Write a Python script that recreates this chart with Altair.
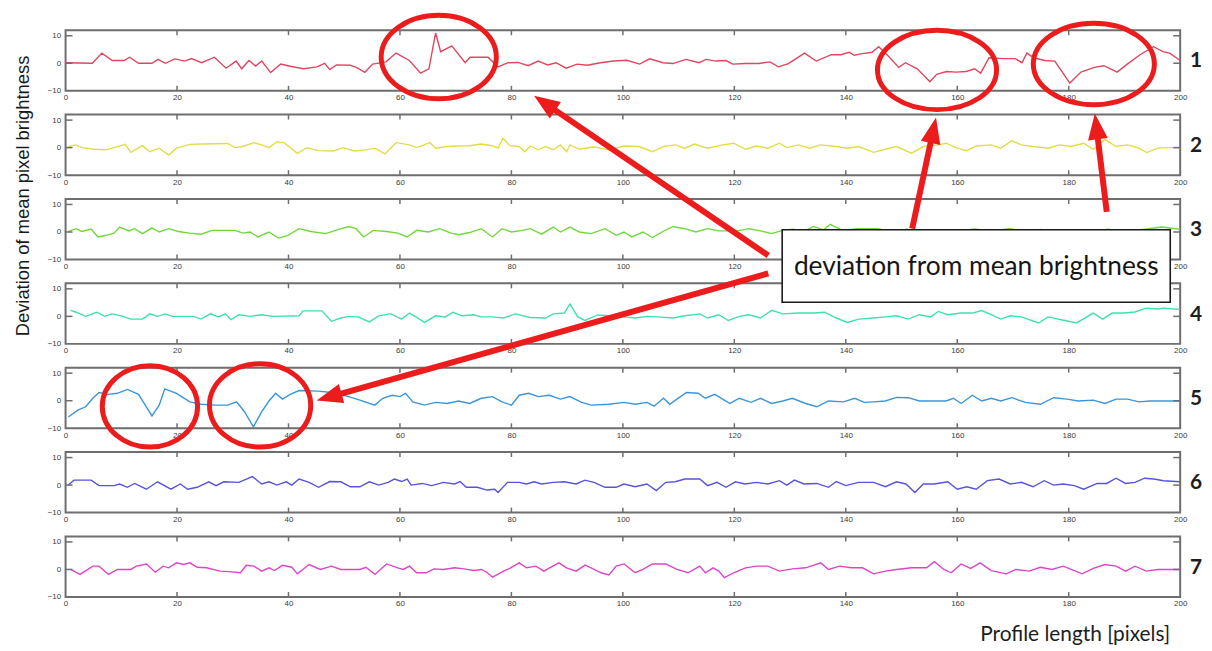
import math
import altair as alt
import pandas as pd

# ---------------- data ----------------
S1 = [(0, 0.2), (4.8, 0), (6.5, 3.7), (8.4, 1.0), (10.5, 1.0), (11.5, 2.2), (13.1, 0), (15.5, 0), (16.6, 1.4),
      (17.9, 0), (19.6, 1.6), (21.4, 0.8), (22.6, 1.7), (24.4, 0.2), (26.7, 2.2), (28.8, -1.8), (30.6, 0.8),
      (31.6, -2.0), (32.9, 1.0), (34.1, -1.0), (35.2, 0.8), (36.8, -3.4), (38.6, -0.3), (40.3, -1.1), (42.7, -2.0),
      (45.1, -1.3), (46.5, 0), (47.4, -2.3), (48.6, -0.6), (51.0, -0.7), (52.2, -1.5), (53.7, -3.3), (55.1, -0.3),
      (57.5, 0.5), (59.3, 3.7), (61.7, 1.0), (63.7, -3.6), (65.2, -2.0), (66.4, 11.0), (67.3, 4.2), (69.3, 6.3),
      (71.7, 0.2), (72.6, 2.2), (75.8, 2.2), (77.6, -1.3), (79.4, 0.2), (81.2, 0.3), (83.0, -0.9), (84.8, 0.8),
      (86.5, -0.6), (88.0, 0.2), (89.8, -1.8), (91.8, -0.3), (93.6, -0.7), (96.0, 0.2), (98.3, 0.8), (100.7, 1.1),
      (103.0, -0.3), (104.8, 1.6), (107.2, 0.2), (109.0, -0.1), (111.3, 1.4), (113.7, 0.2), (114.9, 1.4),
      (116.7, 0.8), (118.5, 1.0), (119.7, -0.3), (122.0, -0.1), (124.4, -0.1), (126.4, 0.5), (127.9, -1.3),
      (129.7, -0.1), (132.6, 3.7), (134.7, 0.8), (137.4, 3.1), (139.1, 3.1), (140.6, 4.0), (141.5, 2.9),
      (142.7, 3.4), (144.7, 4.0), (145.9, 6.0), (147.4, 3.1), (149.5, -1.5), (150.7, 0.2), (152.8, -2.0),
      (155.1, -6.7), (156.3, -4.0), (158.1, -3.0), (159.8, -3.2), (161.6, -3.0), (163.1, -2.0), (164.2, -3.6),
      (165.7, 2.0), (168.1, 1.7), (170.4, 1.7), (171.6, 0.2), (172.5, 3.7), (173.7, 2.0), (175.7, 1.0),
      (177.5, 0.8), (180.2, -7.2), (182.2, -3.2), (184.6, -1.5), (186.3, -0.9), (188.7, -3.2), (190.5, -0.3),
      (192.8, 3.1), (195.2, 6.0), (196.9, 4.2), (198.1, 3.7), (200, 1.0)]

S2 = [(0.5, 0.4), (1.9, 1.0), (2.9, 0), (5.3, -0.6), (7.3, -0.8), (8.7, 0), (10.7, 1.2), (11.7, -1.7), (13.8, 0.7),
      (15.1, -1.5), (16.8, -0.2), (18.5, -2.7), (19.9, -0.2), (22.3, 1.2), (24.3, 1.3), (29.1, 1.5), (30.4, 0),
      (31.8, 0.4), (33.8, 1.8), (35.2, 1.0), (36.5, 0), (37.9, 2.1), (39.2, 1.8), (41.6, -2.1), (43.3, 0),
      (45.4, -1.1), (48.1, -1.2), (49.8, 0), (51.8, -1.2), (53.9, -0.8), (55.5, -0.2), (57.3, -2.3), (59.3, 1.8),
      (61.7, 1.0), (63.0, 0), (65.4, 1.8), (66.4, -0.2), (68.5, 0.4), (70.5, 0.6), (72.5, 0.7), (74.6, 1.3),
      (76.6, 0.7), (77.6, -0.2), (78.5, 3.4), (79.7, 0.7), (81.4, 0.4), (82.4, -1.5), (83.4, 0.6), (84.8, -0.8),
      (86.1, 0.4), (87.5, -0.8), (88.8, 1.0), (89.9, -1.5), (90.5, 1.0), (92.2, -0.6), (94.8, 0.3), (97.5, -0.8),
      (100.2, 0.6), (102.9, 0.4), (105.3, -1.5), (107.3, 0.4), (109.4, 1.0), (111.1, -0.2), (112.8, 1.3),
      (115.2, -0.2), (117.9, 1.0), (119.9, 1.6), (122.0, -0.6), (124.0, 0.6), (126.0, -0.2), (128.1, 1.6),
      (129.4, 0), (131.5, 1.0), (133.5, -0.2), (135.5, 1.0), (138.3, 0.4), (140.3, -0.2), (142.3, 0.4),
      (145.0, -1.7), (147.1, -0.6), (149.1, 0.4), (151.8, -2.0), (153.9, 0.4), (156.6, 1.0), (158.0, 1.6),
      (160.0, -0.2), (161.7, -1.1), (163.4, 0.6), (166.1, 1.0), (167.8, -0.2), (169.8, 2.5), (171.5, 1.0),
      (173.6, 0.4), (176.3, -0.2), (178.3, 1.0), (180.4, 0.4), (182.7, 1.6), (184.4, -0.6), (186.5, 3.0),
      (188.5, 0.4), (190.6, 1.0), (192.6, -0.2), (194.0, -1.8), (196.0, -0.2), (198.0, 0), (200, 0)]

S3 = [(0.5, 0.2), (1.9, 1.2), (2.9, 0.2), (4.6, 1.1), (5.8, -1.8), (7.3, -1.2), (8.7, -0.4), (9.7, 1.8), (11.4, 0.4),
      (12.4, 1.2), (13.8, -0.6), (15.5, 1.5), (16.8, 0), (18.5, 1.2), (20.2, 0.2), (22.3, -0.4), (24.3, -0.8),
      (26.3, 0.6), (30.4, 0.6), (31.8, -0.4), (33.1, 0), (34.5, -1.8), (36.5, 0), (38.2, -2.2), (39.9, -1.2),
      (41.9, 1.2), (44.0, 0.2), (46.7, -0.6), (48.7, 0.8), (50.8, 2.0), (52.1, 1.2), (53.5, -1.8), (55.2, 0.6),
      (57.6, 0.2), (59.6, -0.4), (61.3, -1.8), (63.0, 0.6), (65.1, 0), (67.1, 1.2), (69.2, -0.4), (70.5, -1.0),
      (72.5, -0.2), (74.6, 1.2), (76.6, -1.8), (78.3, 1.2), (80.0, 0), (82.0, 0.6), (83.4, 1.2), (85.4, -0.8),
      (87.5, 1.8), (88.8, 0), (90.5, 1.8), (92.2, 0), (94.3, -0.6), (96.8, 1.2), (98.8, -1.2), (100.2, 0),
      (101.6, -1.8), (103.6, 0), (105.3, -2.0), (107.0, 0), (109.0, 2.0), (111.1, 1.2), (113.1, 0), (115.2, 1.2),
      (117.2, 0.4), (120.6, 0.4), (122.6, 1.2), (124.7, 0.4), (126.7, -0.6), (128.5, 0.5), (130.5, 1.0),
      (132.5, 0.2), (134.2, 2.0), (136.0, 0.8), (137.2, 2.8), (139.5, 0.5), (142.0, 1.2), (145.7, 1.2),
      (148.0, 0.3), (151.0, 1.0), (154.0, -0.3), (157.0, 0.8), (160.0, 0.2), (163.0, 1.1), (166.0, 0.4),
      (169.5, 1.2), (172.0, 0.2), (175.0, 0.9), (178.0, -0.2), (181.0, 0.7), (184.0, 0.1), (187.0, 1.0),
      (190.0, 0.3), (193.0, 0.8), (196.7, 1.8), (200, 1.0)]

S4 = [(0.9, 2.2), (1.9, 1.5), (3.6, 0), (5.6, 1.5), (7.0, 0), (8.3, 0.9), (10.0, 0.2), (11.7, -1.0), (13.8, -1.0),
      (15.1, 0.9), (16.5, 0), (17.8, 0.9), (19.2, 0), (22.9, 0), (24.3, -1.0), (26.0, 0.9), (27.4, -0.2),
      (28.7, 0.9), (29.7, -1.2), (31.1, 0.6), (33.1, 0), (35.2, 0.6), (37.2, 0), (41.9, 0.2), (42.6, 2.0),
      (46.0, 2.0), (47.7, -1.8), (49.4, -0.6), (50.8, 0), (52.5, -0.2), (54.5, -2.0), (56.2, 0.2), (58.3, 1.0),
      (60.3, -1.0), (61.7, 1.2), (63.0, -0.4), (64.4, -2.2), (66.4, 0.2), (68.1, -0.2), (69.5, 1.5), (71.2, 0.2),
      (73.2, 0.6), (74.6, -0.2), (76.6, -0.2), (78.6, -0.6), (80.7, 0.9), (83.4, -0.4), (86.1, -0.6), (87.5, 0.9),
      (89.5, 1.2), (90.5, 4.5), (91.9, -0.2), (93.2, -1.5), (95.5, 0.5), (97.5, 0.2), (100.2, -0.2),
      (102.2, -0.6), (104.3, 0), (106.3, -0.2), (109.0, -0.6), (111.1, 0.2), (113.8, 0.9), (115.2, -0.6),
      (117.2, 0.6), (118.9, -1.5), (120.9, 0), (122.6, 0.6), (124.7, -0.6), (126.7, 2.2), (128.7, 0.9),
      (131.5, 1.2), (134.2, 1.2), (136.2, 1.5), (138.3, -0.6), (140.3, -2.2), (142.3, -1.0), (145.0, -0.6),
      (147.1, -0.2), (149.1, 0.2), (151.2, -1.0), (153.2, 0.6), (155.2, -0.2), (156.6, 1.8), (158.3, 0.6),
      (160.7, 1.2), (162.7, 1.2), (164.4, 2.1), (166.1, 0.6), (167.8, -1.0), (169.5, 0.2), (171.5, -0.2),
      (174.6, -2.4), (176.3, -0.2), (179.3, -1.5), (181.4, -2.4), (184.4, 1.2), (186.1, -1.0), (187.8, 1.2),
      (189.9, 1.2), (191.9, 1.6), (193.9, 3.0), (196.0, 2.7), (197.0, 3.0), (200, 2.5)]

S5 = [(0.5, -5.9), (2.2, -3.4), (3.6, -2.2), (4.9, 0.9), (6.0, 3.0), (7.7, 2.3), (9.3, 2.7), (11.1, 4.1),
      (13.1, 2.3), (14.1, -1.0), (15.5, -5.5), (16.8, -1.6), (17.8, 4.3), (19.9, 2.7), (22.3, -0.4), (24.3, -1.3),
      (27.0, -1.6), (29.1, -1.6), (30.7, -0.4), (32.1, -4.0), (33.7, -9.5), (35.2, -4.0), (36.5, -0.1),
      (37.7, 2.7), (38.9, 0.6), (40.3, 2.3), (41.9, 3.7), (45.4, 3.5), (48.1, 2.9), (50.8, 1.5), (52.8, 0.2),
      (55.5, -1.6), (56.9, 0.9), (58.6, 2.0), (60.0, 1.5), (61.0, 2.7), (62.3, -0.4), (64.4, -1.6), (66.4, -0.6),
      (68.5, -1.0), (70.5, -0.1), (72.5, -1.0), (74.6, 0.9), (76.6, 1.5), (78.3, -0.4), (80.0, -1.6), (81.4, 2.0),
      (83.1, 2.7), (84.8, 1.5), (86.8, 2.0), (88.8, 0.6), (90.5, 1.5), (92.6, -0.6), (94.3, -1.6), (97.5, -1.3),
      (100.2, -0.6), (102.2, -1.3), (104.3, -0.6), (105.6, -2.0), (107.3, 0.9), (108.4, -1.3), (109.7, 0.6),
      (111.4, 3.0), (113.5, 2.7), (114.8, 0.9), (116.5, 2.3), (118.2, 0.2), (119.2, -1.0), (120.9, 0.9),
      (123.0, -0.6), (124.7, 0.9), (126.7, -1.0), (128.7, -0.1), (130.4, 0.9), (132.8, -1.0), (134.8, -2.2),
      (136.9, -0.1), (139.6, -0.4), (141.6, 0.9), (143.3, -0.6), (145.0, -0.4), (147.1, -0.1), (149.1, 1.2),
      (151.2, 1.1), (153.2, -0.1), (158.0, -0.1), (159.3, 0.9), (160.7, -1.0), (162.7, 2.0), (164.4, -0.1),
      (166.1, 0.9), (167.8, -0.1), (169.8, 1.1), (172.2, -0.6), (174.9, -1.3), (177.3, 1.1), (179.7, 0.6),
      (181.7, -0.1), (184.4, 0.2), (186.5, -1.0), (188.5, 0.6), (190.6, 0.6), (192.6, -0.4), (194.6, -0.1),
      (197.0, -0.1), (200, -0.1)]

S6 = [(0.5, 0), (1.5, 1.8), (4.6, 1.8), (6.0, -0.2), (8.7, -0.2), (9.7, 0.4), (11.1, -0.8), (12.4, 0.6),
      (14.5, -1.5), (16.5, 1.2), (18.9, -1.5), (20.6, 0.4), (21.9, -1.5), (23.6, -0.8), (25.7, 1.2), (27.0, -0.2),
      (28.4, 1.2), (31.1, 1.0), (33.5, 3.1), (35.2, 0.4), (36.5, 1.2), (37.9, 0), (39.6, 1.2), (40.6, 0),
      (41.9, 2.2), (43.7, 1.0), (45.4, -0.8), (47.4, 1.3), (49.4, 1.2), (51.1, -0.6), (52.8, -0.6), (54.5, 1.2),
      (56.2, 0), (57.9, 1.0), (59.0, 2.2), (60.3, 1.3), (61.3, 2.2), (62.0, 0), (64.0, 0.6), (65.7, -0.2),
      (67.8, 1.0), (69.8, 0.4), (70.8, 1.3), (71.9, -0.8), (73.9, -0.8), (75.6, -1.8), (77.0, -1.5), (77.6, -2.7),
      (79.3, 1.0), (81.4, 1.0), (82.7, 0.4), (84.1, 1.2), (85.4, 0.4), (87.5, 1.0), (89.5, 1.2), (91.6, 0.4),
      (93.2, 1.8), (94.8, 1.0), (96.8, -0.8), (98.8, -0.8), (100.2, 0.4), (102.2, -0.6), (104.3, 0.4),
      (106.0, -2.0), (107.7, 1.0), (109.4, 1.2), (111.1, 2.2), (113.8, 2.2), (115.2, -0.2), (116.9, 1.0),
      (118.5, -0.8), (120.2, 1.2), (121.9, 0.4), (124.0, 1.0), (126.0, 0.4), (128.1, 1.6), (129.4, 0),
      (130.8, 1.8), (132.5, 0.4), (134.8, 0.6), (136.9, -0.8), (138.3, 1.3), (140.0, -0.2), (142.3, 1.0),
      (145.0, 1.0), (147.1, -0.6), (149.1, 1.2), (150.8, 0.4), (152.4, -2.7), (153.9, 0.4), (155.9, 0.4),
      (158.3, 1.2), (160.0, -1.5), (161.7, -0.6), (163.4, -1.5), (165.4, 1.6), (167.5, 2.2), (169.5, 0.4),
      (171.5, 1.0), (173.6, -0.6), (175.6, 1.6), (177.3, 0), (179.0, 0.4), (181.0, -0.2), (182.7, -1.5),
      (185.1, 0.6), (186.8, 0.6), (188.5, 2.5), (190.2, 0.6), (191.9, 1.0), (193.6, 2.5), (195.3, 2.2),
      (197.0, 1.6), (200, 1.2)]

S7 = [(0.9, 0), (2.6, -1.8), (4.9, 1.2), (6.0, 1.2), (7.7, -1.8), (9.3, 0), (11.7, 0), (12.7, 1.2), (14.5, 2.0),
      (16.1, -1.0), (17.5, 1.2), (18.5, 0.6), (19.9, 2.4), (21.2, 1.8), (22.3, 2.4), (23.6, 0.8), (25.3, 0.6),
      (27.7, -0.6), (29.4, -0.8), (31.4, -1.2), (32.4, 1.5), (33.8, 1.2), (35.2, -0.6), (36.5, 0.6), (37.5, -0.4),
      (38.9, 1.5), (40.6, 0.8), (41.6, -1.6), (43.7, 1.8), (45.7, 0), (47.7, 1.2), (49.4, 0), (52.8, 0),
      (53.9, 0.8), (55.5, -1.8), (57.6, 2.0), (59.6, 0.6), (60.6, 0), (61.7, 1.2), (63.0, -1.2), (64.7, -1.2),
      (66.1, 0.2), (67.8, 0), (69.8, 0.6), (71.5, 0.2), (73.2, -0.4), (74.6, 0), (75.6, -1.0), (76.6, -2.8),
      (78.6, -0.6), (79.7, 0.4), (81.4, 2.4), (82.7, 0.6), (84.4, 1.2), (85.8, -0.6), (88.5, 2.4), (89.9, 0.6),
      (91.6, -0.6), (93.2, 1.6), (94.3, 0.6), (96.1, -1.2), (97.5, -2.0), (98.8, 1.2), (100.2, 2.0),
      (102.2, -1.2), (103.6, 0), (105.3, 2.0), (107.7, 2.0), (109.7, 0), (111.7, -1.2), (113.8, 1.2),
      (114.8, -1.2), (116.2, 0.6), (117.2, -0.6), (118.2, -3.0), (119.9, -1.2), (122.0, 0.6), (124.0, 1.2),
      (126.0, 1.2), (128.1, -0.6), (130.4, 0.2), (132.8, 0.6), (135.5, 2.4), (136.9, 0), (138.9, 1.2),
      (141.0, 0.6), (143.0, 0.6), (145.0, -1.6), (147.1, -0.6), (149.1, 0), (151.8, 0.6), (154.5, 0.6),
      (155.9, 2.8), (157.6, 0), (158.9, -1.2), (160.7, 2.0), (162.4, 0.4), (164.1, 2.4), (166.1, -0.4),
      (168.8, -1.6), (170.5, 0), (172.9, -0.6), (174.9, 0.8), (177.0, 0), (179.0, 1.2), (181.0, -0.4),
      (182.4, -1.6), (184.4, 0.4), (186.5, 1.8), (188.5, 1.2), (190.2, -0.6), (191.9, 1.2), (193.9, -0.6),
      (196.0, 0), (197.0, 0), (200, 0)]

SERIES = [S1, S2, S3, S4, S5, S6, S7]
COLORS = ["#e2455f", "#e4dc44", "#70d83a", "#3fe0b0", "#3a96da", "#5753dc", "#dc45c8"]
PANEL_LABELS = ["1", "2", "3", "4", "5", "6", "7"]
X_TICKS = [0, 20, 40, 60, 80, 100, 120, 140, 160, 180, 200]
Y_TICKS = [-10, 0, 10]
INNER_X_TICKS = X_TICKS[1:-1]
INNER_Y_TICKS = [0, 10]
HIDDEN_LABEL_PANEL = 2          # panel whose x labels 140-180 sit under the callout box
HIDDEN_LABEL_RANGE = (140, 180)

Y_TITLE = "Deviation of mean pixel brightness"
X_TITLE = "Profile length [pixels]"
CALLOUT = "deviation from mean brightness"

# ---------------- layout / style ----------------
W, H, GAP = 1123, 61, 24
X_DOMAIN = [0, 200]
Y_DOMAIN = [-10, 12]
FRAME = "#6e6e6e"
RED = "#ec1c1c"

# annotation geometry, in page pixels (converted to panel-7 data units below)
PLOT_LEFT, PANEL7_TOP = 65, 538
ELLIPSES = [(441, 55, 58, 42), (943, 68, 60, 40), (1101, 62, 61, 41), (150, 407, 48, 41), (261, 406, 51, 42)]
ARROWS = [((773, 255), (537, 94)), ((773, 273), (318, 401)), ((918, 228), (942, 116)), ((1114, 211), (1102, 112))]
BOX = (787, 229, 1178, 302)


def to_x(px):
    return (px - PLOT_LEFT) * (X_DOMAIN[1] - X_DOMAIN[0]) / W


def to_y(py):
    return Y_DOMAIN[1] - (py - PANEL7_TOP) * (Y_DOMAIN[1] - Y_DOMAIN[0]) / H


xs = alt.Scale(domain=X_DOMAIN, nice=False, zero=False)
ys = alt.Scale(domain=Y_DOMAIN, nice=False, zero=False)


def make_x_axis(i):
    kw = dict(values=X_TICKS, title=None, grid=False, domain=False, ticks=False, labelPadding=3,
              labelFlush=False, labelFontSize=8, labelColor="#3c3c3c", labelFont="Liberation Sans")
    if i == HIDDEN_LABEL_PANEL:
        lo, hi = HIDDEN_LABEL_RANGE
        kw["labelExpr"] = f"(datum.value >= {lo} && datum.value <= {hi}) ? '' : datum.label"
    return alt.Axis(**kw)


y_axis = alt.Axis(values=Y_TICKS, title=None, grid=False, domain=False, ticks=False, labelPadding=5,
                  labelFontSize=8, labelColor="#3c3c3c", labelFont="Liberation Sans")


def annotations(XE, YE):
    layers = []
    k = 0.5523
    for (cx, cy, rx, ry) in ELLIPSES:
        a = rx / ry  # path scaled by the vertical radius
        path = (f"M {a:.4f} 0 C {a:.4f} {k:.4f} {k*a:.4f} 1 0 1 "
                f"C {-k*a:.4f} 1 {-a:.4f} {k:.4f} {-a:.4f} 0 "
                f"C {-a:.4f} {-k:.4f} {-k*a:.4f} -1 0 -1 "
                f"C {k*a:.4f} -1 {a:.4f} {-k:.4f} {a:.4f} 0 Z")
        d = pd.DataFrame({"x": [to_x(cx)], "y": [to_y(cy)]})
        layers.append(alt.Chart(d).mark_point(shape=path, size=(2 * ry) ** 2, filled=False, color=RED,
                                              stroke=RED, strokeWidth=5, opacity=1, clip=False)
                      .encode(x=XE("x"), y=YE("y")))
    # arrows
    L, HW = 26, 10
    head_path = f"M 0 -1 L {HW / (L / 2):.3f} 1 L {-HW / (L / 2):.3f} 1 Z"
    rows, heads = [], []
    for (sx, sy), (tx, ty) in ARROWS:
        dx, dy = tx - sx, ty - sy
        n = math.hypot(dx, dy)
        ux, uy = dx / n, dy / n
        bx, by = tx - ux * (L - 3), ty - uy * (L - 3)
        rows.append({"x1": to_x(sx), "y1": to_y(sy), "x2": to_x(bx), "y2": to_y(by)})
        ang = math.degrees(math.atan2(dx, -dy)) % 360
        hx, hy = tx - ux * L / 2, ty - uy * L / 2
        heads.append({"x": to_x(hx), "y": to_y(hy), "angle": ang})
    layers.append(alt.Chart(pd.DataFrame(rows)).mark_rule(color=RED, strokeWidth=6, clip=False)
                  .encode(x=XE("x1"), y=YE("y1"), x2="x2:Q", y2="y2:Q"))
    layers.append(alt.Chart(pd.DataFrame(heads)).mark_point(shape=head_path, size=L ** 2, filled=True, color=RED,
                                                             fill=RED, opacity=1, strokeWidth=0, clip=False)
                  .encode(x=XE("x"), y=YE("y"), angle=alt.Angle("angle:Q", scale=None)))
    # callout box
    bx1, by1, bx2, by2 = BOX
    box = pd.DataFrame({"x1": [to_x(bx1)], "x2": [to_x(bx2)], "y1": [to_y(by1)], "y2": [to_y(by2)],
                        "xc": [to_x((bx1 + bx2) / 2)], "yc": [to_y((by1 + by2) / 2 + 1)], "t": [CALLOUT]})
    layers.append(alt.Chart(box).mark_rect(fill="white", stroke="#1a1a1a", strokeWidth=1.6, clip=False)
                  .encode(x=XE("x1"), x2="x2:Q", y=YE("y1"), y2="y2:Q"))
    layers.append(alt.Chart(box).mark_text(font="Lato", fontSize=26.5, color="#161616", align="center",
                                           baseline="middle", clip=False)
                  .encode(x=XE("xc"), y=YE("yc"), text="t:N"))
    # axis titles
    yt = pd.DataFrame({"x": [to_x(22)], "y": [to_y(195)], "t": [Y_TITLE]})
    layers.append(alt.Chart(yt).mark_text(font="Liberation Sans", fontSize=18.5, color="#1a1a1a", angle=270,
                                          align="center", baseline="middle", clip=False)
                  .encode(x=XE("x"), y=YE("y"), text="t:N"))
    xt = pd.DataFrame({"x": [to_x(1178)], "y": [to_y(637)], "t": [X_TITLE]})
    layers.append(alt.Chart(xt).mark_text(font="Lato", fontSize=21, color="#1e1e1e", align="right",
                                          baseline="middle", clip=False)
                  .encode(x=XE("x"), y=YE("y"), text="t:N"))
    return layers


def make_panel(i):
    x_axis = make_x_axis(i)

    def XE(field):
        return alt.X(field, type="quantitative", scale=xs, axis=x_axis)

    def YE(field):
        return alt.Y(field, type="quantitative", scale=ys, axis=y_axis)

    df = pd.DataFrame(SERIES[i], columns=["x", "y"])
    line = alt.Chart(df).mark_line(color=COLORS[i], strokeWidth=1.4, clip=True).encode(x=XE("x"), y=YE("y"))
    tx = pd.DataFrame({"t": INNER_X_TICKS})
    ty = pd.DataFrame({"t": INNER_Y_TICKS})
    top_t = alt.Chart(tx).mark_rule(color=FRAME, strokeWidth=1.5).encode(x=XE("t"), y=alt.value(0), y2=alt.value(5))
    bot_t = alt.Chart(tx).mark_rule(color=FRAME, strokeWidth=1.5).encode(x=XE("t"), y=alt.value(H - 5), y2=alt.value(H))
    lef_t = alt.Chart(ty).mark_rule(color=FRAME, strokeWidth=1.5).encode(y=YE("t"), x=alt.value(0), x2=alt.value(7))
    rig_t = alt.Chart(ty).mark_rule(color=FRAME, strokeWidth=1.5).encode(y=YE("t"), x=alt.value(W - 7), x2=alt.value(W))
    lab = alt.Chart(pd.DataFrame({"label": [PANEL_LABELS[i]]})).mark_text(
        font="Lato", fontSize=21, fontWeight="bold", color="#1e1e1e", align="center", baseline="middle", clip=False
    ).encode(x=alt.value(W + 16), y=alt.value(H / 2 + 1), text="label:N")
    layers = [line, top_t, bot_t, lef_t, rig_t, lab]
    if i == len(SERIES) - 1:
        layers += annotations(XE, YE)
    return alt.layer(*layers).properties(width=W, height=H)


panels = [make_panel(i) for i in range(len(SERIES))]
chart = alt.vconcat(*panels, spacing=GAP, bounds="flush").properties(
    padding={"left": 5, "top": -6, "right": 0, "bottom": 0}, background="white"
).configure_view(stroke=FRAME, strokeWidth=2)

chart.save("out.html", embed_options={"renderer": "svg", "actions": False})
